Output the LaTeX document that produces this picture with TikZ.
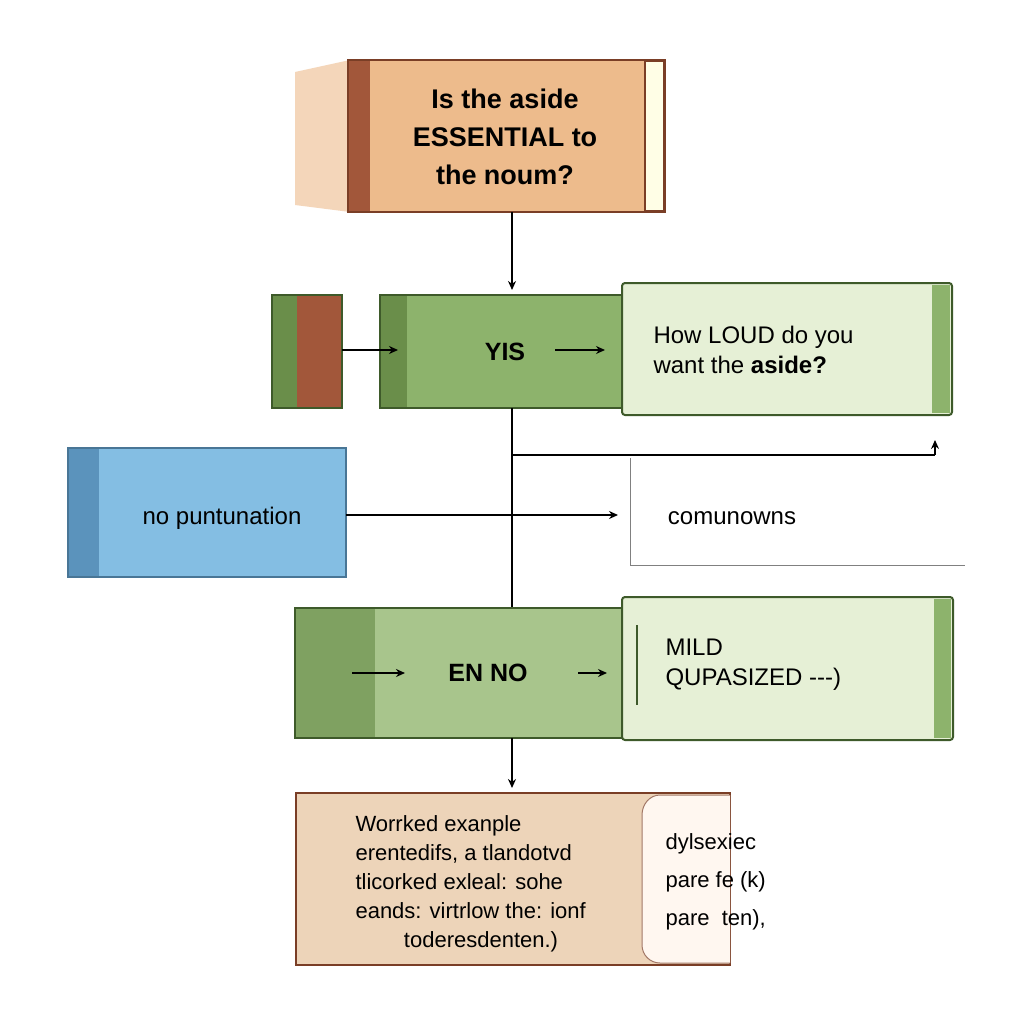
\documentclass[tikz,border=0pt]{standalone}
\usepackage{fontspec}
\setmainfont{Liberation Sans}
\usetikzlibrary{arrows.meta}
\definecolor{brn}{HTML}{7A3E26}
\definecolor{tan}{HTML}{EDBB8C}
\definecolor{rust}{HTML}{A2573A}
\definecolor{grn}{HTML}{8DB36C}
\definecolor{dgrn}{HTML}{6A8E4A}
\definecolor{lgrn}{HTML}{E6F0D6}
\definecolor{bdr}{HTML}{3E5A2A}
\definecolor{blu}{HTML}{84BEE3}
\definecolor{dblu}{HTML}{5B93BC}
\definecolor{ltan}{HTML}{EDD4B9}
\tikzset{x=1pt,y=-1pt,
 arr/.style={-{Stealth[length=9pt,width=8pt]},line width=1.6pt},
 ln/.style={line width=1.6pt},
 txt/.style={font=\fontsize{24}{30}\selectfont,align=center},
 btxt/.style={font=\bfseries\fontsize{25}{31}\selectfont,align=center}}
\begin{document}
\begin{tikzpicture}
\useasboundingbox[fill=white] (0,0) rectangle (1024,1024);
% top box
\fill[tan!60!white] (295,72) -- (350,60) -- (350,212) -- (295,205) -- cycle;
\draw[brn,line width=2pt,fill=tan] (348,60) rectangle (665,212);
\fill[rust] (349,61) rectangle (370,211);
\draw[brn,line width=1.5pt,fill=yellow!10!white] (645,61) rectangle (664,211);
\node[btxt,font=\bfseries\fontsize{27}{38}\selectfont] (q) at (505,137) {Is the aside\\ESSENTIAL to\\the noum?};
\coordinate (qb) at (512,212);
% yes row
\fill[dgrn] (272,295) rectangle (297,408);
\fill[rust] (297,295) rectangle (342,408);
\draw[bdr,line width=1.5pt] (272,295) rectangle (342,408);
\coordinate (smallR) at (342,350);
\draw[bdr,line width=1.5pt,fill=grn] (380,295) rectangle (625,408);
\fill[dgrn] (381,296) rectangle (407,407);
\draw[arr] (smallR) -- (398,350);
\node[btxt] (yes) at (505,352) {YIS};
\draw[bdr,line width=2pt,fill=lgrn,rounded corners=3pt] (622,283) rectangle (952,415);
\fill[grn] (932,285) rectangle (950,413);
\node[txt,align=left,anchor=west] (loud) at (650,350) {How LOUD do you\\want the \textbf{aside?}};
\draw[arr] (555,350) -- (605,350);
\draw[arr] (qb) -- (512,290);
\draw[ln] (512,408) -- (512,455) -- (935,455);
\draw[arr,line width=1.2pt] (935,455) -- (935,440);
% no punctuation
\draw[dblu!80!black,line width=1.5pt,fill=blu] (68,448) rectangle (346,577);
\fill[dblu] (69,449) rectangle (99,576);
\node[txt] (np) at (222,518) {no puntunation};
\coordinate (cm) at (618,515);
\draw[arr] (346,515) -- (cm);
\draw[gray,line width=0.8pt] (630,458) -- (630,565) -- (965,565);
\node[txt] (com) at (732,518) {comunowns};
% EN NO row
\draw[ln] (512,455) -- (512,610);
\draw[bdr,line width=1.5pt,fill=grn!70!lgrn] (295,608) rectangle (625,738);
\fill[grn!90!black] (296,609) rectangle (375,737);
\node[btxt] (enno) at (488,673) {EN NO};
\draw[arr] (352,673) -- (405,673);
\draw[arr] (578,673) -- (607,673);
\draw[bdr,line width=2pt,fill=lgrn,rounded corners=3pt] (622,597) rectangle (953,740);
\fill[grn] (934,599) rectangle (951,738);
\draw[bdr,line width=1.2pt] (637,625) -- (637,705);
\node[txt,align=left,anchor=west] (mild) at (662,665) {MILD\\QUPASIZED -{}-{}-)};
\draw[arr] (512,738) -- (512,788);
% bottom
\draw[brn,line width=1.5pt,fill=ltan] (296,793) rectangle (730,965);
\draw[brn!70,line width=1pt,fill=orange!6!white] (730,795) -- (660,795) to[out=180,in=90] (642,815) -- (642,945) to[out=-90,in=180] (660,963) -- (730,963);
\node[txt,align=left,anchor=north west,font=\fontsize{22}{29}\selectfont] (we) at (352,812) {Worrked exanple\\erentedifs, a tlandotvd\\tlicorked exleal: sohe\\eands: virtrlow the: ionf\\\hspace{2.2em}toderesdenten.)};
\node[txt,align=left,anchor=north west,font=\fontsize{22}{38}\selectfont] (dy) at (662,830) {dylsexiec\\pare fe (k)\\pare\ \ ten),};
\end{tikzpicture}
\end{document}
